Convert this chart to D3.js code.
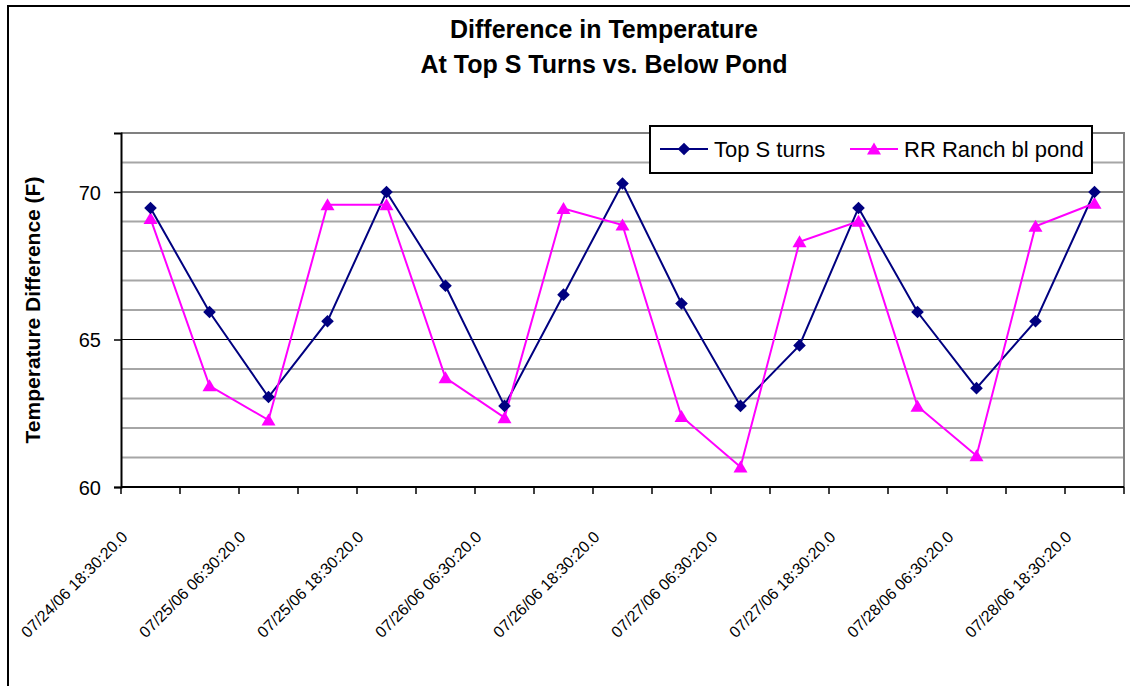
<!DOCTYPE html>
<html>
<head>
<meta charset="utf-8">
<script src="https://d3js.org/d3.v7.min.js"></script>
<style>
  html, body { margin: 0; padding: 0; background: #fff; }
  svg { display: block; }
  text { font-family: "Liberation Sans", Arial, sans-serif; }
</style>
</head>
<body>
<svg id="chart" width="1130" height="686"></svg>
<script>
// ---- Data ----
const categories = [
  "07/24/06 18:30:20.0", "07/25/06 00:30:20.0", "07/25/06 06:30:20.0", "07/25/06 12:30:20.0",
  "07/25/06 18:30:20.0", "07/26/06 00:30:20.0", "07/26/06 06:30:20.0", "07/26/06 12:30:20.0",
  "07/26/06 18:30:20.0", "07/27/06 00:30:20.0", "07/27/06 06:30:20.0", "07/27/06 12:30:20.0",
  "07/27/06 18:30:20.0", "07/28/06 00:30:20.0", "07/28/06 06:30:20.0", "07/28/06 12:30:20.0",
  "07/28/06 18:30:20.0"
];
const topSTurns = [69.46, 65.93, 63.05, 65.62, 70.0, 66.82, 62.75, 66.52, 70.29, 66.22, 62.75, 64.8, 69.46, 65.93, 63.35, 65.62, 70.0];
const rrRanchBlPond = [69.1, 63.43, 62.27, 69.57, 69.57, 63.7, 62.35, 69.44, 68.88, 62.39, 60.68, 68.31, 69.01, 62.74, 61.06, 68.84, 69.62];
const seriesNames = ["Top S turns", "RR Ranch bl pond"];
const yMajorTicks = [60, 65, 70];
const yMinorTicks = [61, 62, 63, 64, 66, 67, 68, 69, 71];
const titleLines = ["Difference in Temperature", "At Top S Turns vs. Below Pond"];
const yAxisTitle = "Temperature Difference (F)";

// ---- Layout ----
const svg = d3.select("#chart");
const plot = { left: 121, right: 1124, top: 133, bottom: 487 };

const x = d3.scaleBand().domain(categories).range([plot.left, plot.right]).paddingInner(0).paddingOuter(0);
const y = d3.scaleLinear().domain([60, 72]).range([plot.bottom, plot.top]);
const cx = d => x(d) + x.bandwidth() / 2;

// outer frame
svg.append("rect").attr("x", 8).attr("y", 6).attr("width", 1140).attr("height", 700)
  .attr("fill", "#fff").attr("stroke", "#000").attr("stroke-width", 2);

// title
svg.append("g").selectAll("text").data(titleLines).join("text")
  .attr("x", 604).attr("y", (d, i) => 38 + i * 35)
  .attr("text-anchor", "middle").attr("font-weight", "bold").attr("font-size", 25)
  .attr("fill", "#000").text(d => d);

// minor gridlines
svg.append("g").selectAll("line").data(yMinorTicks).join("line")
  .attr("x1", plot.left).attr("x2", plot.right)
  .attr("y1", d => y(d)).attr("y2", d => y(d))
  .attr("stroke", "#a6a6a6").attr("stroke-width", 2);
// major gridlines
svg.append("g").selectAll("line").data(yMajorTicks.filter(v => v > 60)).join("line")
  .attr("x1", plot.left).attr("x2", plot.right)
  .attr("y1", d => y(d)).attr("y2", d => y(d))
  .attr("stroke", "#000").attr("stroke-width", 1.2);

// plot border top/right
svg.append("path")
  .attr("d", `M${plot.left},${plot.top}H${plot.right}V${plot.bottom}`)
  .attr("fill", "none").attr("stroke", "#808080").attr("stroke-width", 2);

// y axis
const yAxis = d3.axisLeft(y).tickValues(yMajorTicks).tickSize(7).tickPadding(13).tickFormat(d3.format("d"));
const gy = svg.append("g").attr("transform", `translate(${plot.left},0)`).call(yAxis);
gy.select(".domain").attr("stroke", "#000").attr("stroke-width", 2);
gy.selectAll(".tick line").attr("stroke", "#000").attr("stroke-width", 1.5);
gy.selectAll(".tick text").attr("font-size", 20).attr("font-family", "Liberation Sans, Arial, sans-serif")
  .attr("fill", "#000").attr("dy", "0.36em");

// x axis line + ticks at category boundaries
const boundaries = categories.map(c => x(c)).concat([plot.right]);
svg.append("line").attr("x1", plot.left).attr("x2", plot.right)
  .attr("y1", plot.bottom).attr("y2", plot.bottom).attr("stroke", "#000").attr("stroke-width", 2);
svg.append("g").selectAll("line").data(boundaries).join("line")
  .attr("x1", d => d).attr("x2", d => d)
  .attr("y1", plot.bottom).attr("y2", plot.bottom + 7)
  .attr("stroke", "#000").attr("stroke-width", 1.5);

// x labels (every 2nd category)
svg.append("g").selectAll("text").data(categories.filter((d, i) => i % 2 === 0)).join("text")
  .attr("transform", d => `translate(${cx(d) - 22},538) rotate(-45)`)
  .attr("text-anchor", "end").attr("font-size", 16).attr("fill", "#000")
  .text(d => d);

// y axis title
svg.append("text")
  .attr("transform", `translate(40,${(plot.top + plot.bottom) / 2}) rotate(-90)`)
  .attr("text-anchor", "middle").attr("font-weight", "bold").attr("font-size", 21)
  .attr("fill", "#000").text(yAxisTitle);

// series
const line = d3.line().x((d, i) => cx(categories[i])).y(d => y(d));
const navy = "#000080", pink = "#ff00ff";
const diamond = "M0,-6.3L6.3,0L0,6.3L-6.3,0Z";
const triangle = "M0,-6.5L7,5.5L-7,5.5Z";

svg.append("path").datum(topSTurns).attr("d", line)
  .attr("fill", "none").attr("stroke", navy).attr("stroke-width", 2);
svg.append("path").datum(rrRanchBlPond).attr("d", line)
  .attr("fill", "none").attr("stroke", pink).attr("stroke-width", 2);

svg.append("g").selectAll("path").data(rrRanchBlPond).join("path")
  .attr("d", triangle)
  .attr("transform", (d, i) => `translate(${cx(categories[i])},${y(d)})`)
  .attr("fill", pink);
svg.append("g").selectAll("path").data(topSTurns).join("path")
  .attr("d", diamond)
  .attr("transform", (d, i) => `translate(${cx(categories[i])},${y(d)})`)
  .attr("fill", navy);

// legend
const lg = svg.append("g");
lg.append("rect").attr("x", 650).attr("y", 126).attr("width", 442).attr("height", 47)
  .attr("fill", "#fff").attr("stroke", "#000").attr("stroke-width", 2);
const legendItems = [
  { name: seriesNames[0], color: navy, shape: diamond, x0: 660 },
  { name: seriesNames[1], color: pink, shape: triangle, x0: 850 }
];
legendItems.forEach(it => {
  lg.append("line").attr("x1", it.x0).attr("x2", it.x0 + 48).attr("y1", 149).attr("y2", 149)
    .attr("stroke", it.color).attr("stroke-width", 2);
  lg.append("path").attr("d", it.shape).attr("transform", `translate(${it.x0 + 24},149)`).attr("fill", it.color);
  lg.append("text").attr("x", it.x0 + 54).attr("y", 157).attr("font-size", 22).attr("fill", "#000").text(it.name);
});
</script>
</body>
</html>
